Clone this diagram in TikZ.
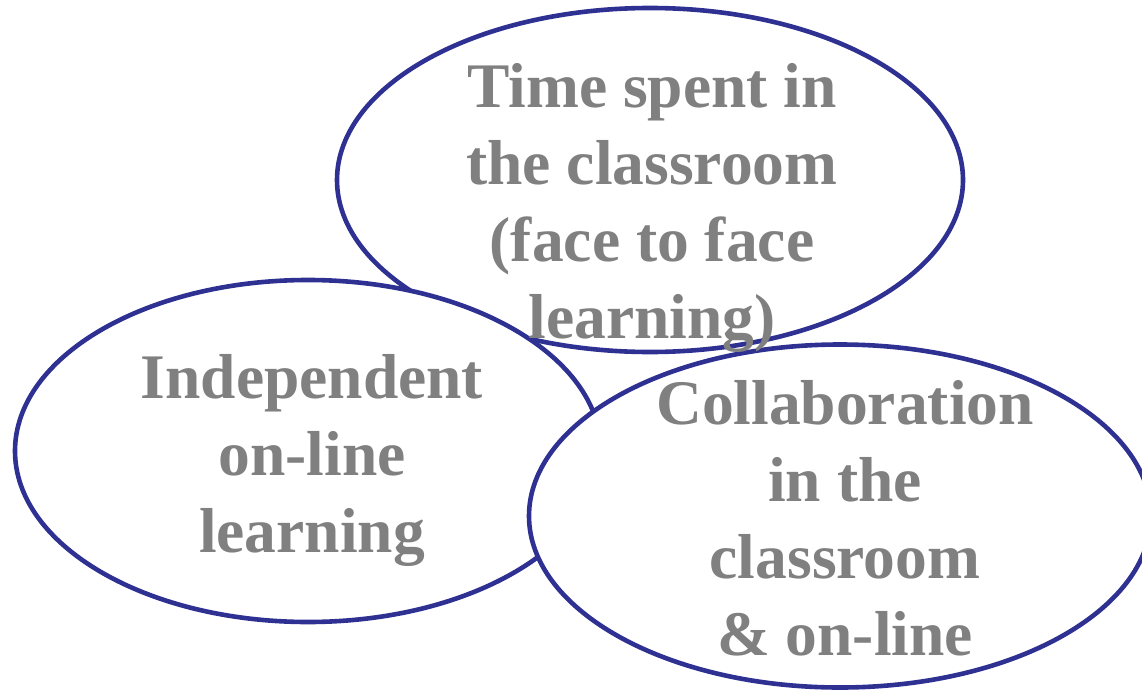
\documentclass[tikz,border=0pt]{standalone}
\usepackage{fontspec}
\setmainfont{Liberation Serif}
\usetikzlibrary{shapes.geometric}
\definecolor{ringblue}{HTML}{2E3192}
\definecolor{textgray}{HTML}{808080}
\begin{document}
\begin{tikzpicture}[x=1pt,y=-1pt,
    ring/.style={ellipse,draw=ringblue,line width=4.6pt,fill=white,inner sep=0pt},
    txt/.style={text=textgray,font=\bfseries\fontsize{63.5}{77}\selectfont,align=center,inner sep=0pt}]
        \useasboundingbox (0,0) rectangle (1142,690);
        % the three rings, back to front
        \node[ring,minimum width=626pt,minimum height=344pt](classring)at(650,180){};
        \node[ring,minimum width=586pt,minimum height=342pt](selfring)at(308,451){};
        \node[ring,minimum width=622pt,minimum height=343pt](collabring)at(840,516){};

        \node[txt](classtext)at(652,208){Time spent in\\the classroom\\(face to face\\learning)};
        \node[txt](selftext)at(312,460){Independent\\on-line\\learning};
        \node[txt](collabtext)at(845,518){Collaboration\\in the\\classroom\\\& on-line};
    \end{tikzpicture}
\end{document}
